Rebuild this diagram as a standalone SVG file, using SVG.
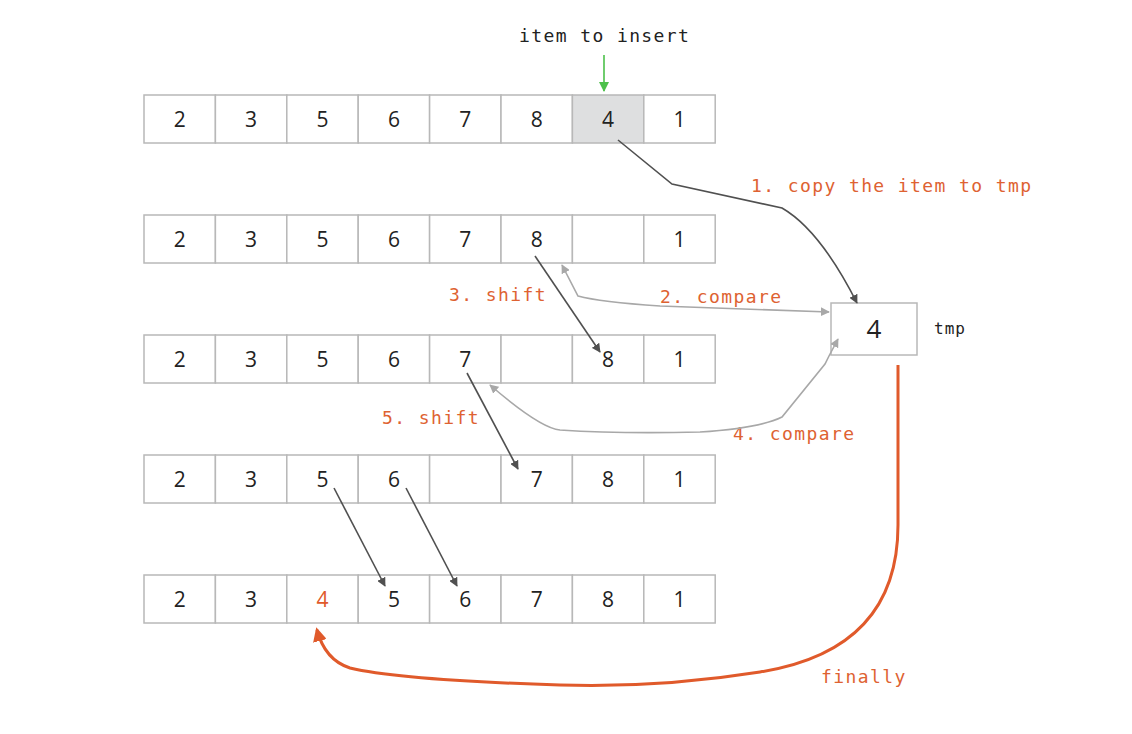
<svg xmlns="http://www.w3.org/2000/svg" width="1132" height="734" viewBox="0 0 1132 734">
<style>
.cell{fill:#fff;stroke:#b8b8b8;stroke-width:1.5}
.hl{fill:#dedfe0}
.num{font-family:"Open Sans","DejaVu Sans",sans-serif;font-size:21px;fill:#222;text-anchor:middle;dominant-baseline:central}
.org{fill:#e05a2b}
.lbl{font-family:"DejaVu Sans Mono","Liberation Mono",monospace;font-size:18px;letter-spacing:1.4px;fill:#de6232}
.blk{font-family:"DejaVu Sans Mono","Liberation Mono",monospace;font-size:18px;letter-spacing:1.4px;fill:#222}
.dk{fill:none;stroke:#505050;stroke-width:1.6}
.lt{fill:none;stroke:#a8a8a8;stroke-width:1.6}
</style>
<defs>
<marker id="ad" viewBox="0 0 10 10" refX="9" refY="5" markerWidth="9" markerHeight="9" markerUnits="userSpaceOnUse" orient="auto-start-reverse"><path d="M0,0 L10,5 L0,10 z" fill="#505050"/></marker>
<marker id="al" viewBox="0 0 10 10" refX="9" refY="5" markerWidth="9" markerHeight="9" markerUnits="userSpaceOnUse" orient="auto-start-reverse"><path d="M0,0 L10,5 L0,10 z" fill="#a8a8a8"/></marker>
<marker id="ag" viewBox="0 0 10 10" refX="9" refY="5" markerWidth="10" markerHeight="10" markerUnits="userSpaceOnUse" orient="auto"><path d="M0,0 L10,5 L0,10 z" fill="#4cc04a"/></marker>
<marker id="ao" viewBox="0 0 10 10" refX="8" refY="5" markerWidth="14" markerHeight="14" markerUnits="userSpaceOnUse" orient="auto"><path d="M0,0 L10,5 L0,10 z" fill="#e05a2b"/></marker>
</defs>
<rect width="1132" height="734" fill="#fff"/>

<g id="row1">
<rect class="cell" x="144" y="95" width="71.4" height="48"/>
<rect class="cell" x="215.4" y="95" width="71.4" height="48"/>
<rect class="cell" x="286.8" y="95" width="71.4" height="48"/>
<rect class="cell" x="358.2" y="95" width="71.4" height="48"/>
<rect class="cell" x="429.6" y="95" width="71.4" height="48"/>
<rect class="cell" x="501" y="95" width="71.4" height="48"/>
<rect class="cell hl" x="572.4" y="95" width="71.4" height="48"/>
<rect class="cell" x="643.8" y="95" width="71.4" height="48"/>
<text class="num" x="179.7" y="119">2</text>
<text class="num" x="251.1" y="119">3</text>
<text class="num" x="322.5" y="119">5</text>
<text class="num" x="393.9" y="119">6</text>
<text class="num" x="465.3" y="119">7</text>
<text class="num" x="536.7" y="119">8</text>
<text class="num" x="608.1" y="119">4</text>
<text class="num" x="679.5" y="119">1</text>
</g>

<g id="row2">
<rect class="cell" x="144" y="215" width="71.4" height="48"/>
<rect class="cell" x="215.4" y="215" width="71.4" height="48"/>
<rect class="cell" x="286.8" y="215" width="71.4" height="48"/>
<rect class="cell" x="358.2" y="215" width="71.4" height="48"/>
<rect class="cell" x="429.6" y="215" width="71.4" height="48"/>
<rect class="cell" x="501" y="215" width="71.4" height="48"/>
<rect class="cell" x="572.4" y="215" width="71.4" height="48"/>
<rect class="cell" x="643.8" y="215" width="71.4" height="48"/>
<text class="num" x="179.7" y="239">2</text>
<text class="num" x="251.1" y="239">3</text>
<text class="num" x="322.5" y="239">5</text>
<text class="num" x="393.9" y="239">6</text>
<text class="num" x="465.3" y="239">7</text>
<text class="num" x="536.7" y="239">8</text>
<text class="num" x="679.5" y="239">1</text>
</g>

<g id="row3">
<rect class="cell" x="144" y="335" width="71.4" height="48"/>
<rect class="cell" x="215.4" y="335" width="71.4" height="48"/>
<rect class="cell" x="286.8" y="335" width="71.4" height="48"/>
<rect class="cell" x="358.2" y="335" width="71.4" height="48"/>
<rect class="cell" x="429.6" y="335" width="71.4" height="48"/>
<rect class="cell" x="501" y="335" width="71.4" height="48"/>
<rect class="cell" x="572.4" y="335" width="71.4" height="48"/>
<rect class="cell" x="643.8" y="335" width="71.4" height="48"/>
<text class="num" x="179.7" y="359">2</text>
<text class="num" x="251.1" y="359">3</text>
<text class="num" x="322.5" y="359">5</text>
<text class="num" x="393.9" y="359">6</text>
<text class="num" x="465.3" y="359">7</text>
<text class="num" x="608.1" y="359">8</text>
<text class="num" x="679.5" y="359">1</text>
</g>

<g id="row4">
<rect class="cell" x="144" y="455" width="71.4" height="48"/>
<rect class="cell" x="215.4" y="455" width="71.4" height="48"/>
<rect class="cell" x="286.8" y="455" width="71.4" height="48"/>
<rect class="cell" x="358.2" y="455" width="71.4" height="48"/>
<rect class="cell" x="429.6" y="455" width="71.4" height="48"/>
<rect class="cell" x="501" y="455" width="71.4" height="48"/>
<rect class="cell" x="572.4" y="455" width="71.4" height="48"/>
<rect class="cell" x="643.8" y="455" width="71.4" height="48"/>
<text class="num" x="179.7" y="479">2</text>
<text class="num" x="251.1" y="479">3</text>
<text class="num" x="322.5" y="479">5</text>
<text class="num" x="393.9" y="479">6</text>
<text class="num" x="536.7" y="479">7</text>
<text class="num" x="608.1" y="479">8</text>
<text class="num" x="679.5" y="479">1</text>
</g>

<g id="row5">
<rect class="cell" x="144" y="575" width="71.4" height="48"/>
<rect class="cell" x="215.4" y="575" width="71.4" height="48"/>
<rect class="cell" x="286.8" y="575" width="71.4" height="48"/>
<rect class="cell" x="358.2" y="575" width="71.4" height="48"/>
<rect class="cell" x="429.6" y="575" width="71.4" height="48"/>
<rect class="cell" x="501" y="575" width="71.4" height="48"/>
<rect class="cell" x="572.4" y="575" width="71.4" height="48"/>
<rect class="cell" x="643.8" y="575" width="71.4" height="48"/>
<text class="num" x="179.7" y="599">2</text>
<text class="num" x="251.1" y="599">3</text>
<text class="num org" x="322.5" y="599">4</text>
<text class="num" x="393.9" y="599">5</text>
<text class="num" x="465.3" y="599">6</text>
<text class="num" x="536.7" y="599">7</text>
<text class="num" x="608.1" y="599">8</text>
<text class="num" x="679.5" y="599">1</text>
</g>

<g id="tmp">
<rect class="cell" x="831" y="303" width="86" height="52"/>
<text class="num" x="874" y="328" style="font-size:26px">4</text>
<text class="blk" x="934" y="334" style="font-size:16px;letter-spacing:1px">tmp</text>
</g>

<g id="labels">
<text class="blk" x="519" y="42">item to insert</text>
<text class="lbl" x="751" y="192">1. copy the item to tmp</text>
<text class="lbl" x="660" y="303">2. compare</text>
<text class="lbl" x="449" y="301">3. shift</text>
<text class="lbl" x="733" y="440">4. compare</text>
<text class="lbl" x="382" y="424">5. shift</text>
<text class="lbl" x="821" y="683">finally</text>
</g>

<g id="connectors">
<path d="M604,55 L604,91" stroke="#4cc04a" stroke-width="1.6" fill="none" marker-end="url(#ag)"/>
<path class="dk" d="M618,140 L672,184 L782,208 Q820,230 857,303" marker-end="url(#ad)"/>
<path class="lt" d="M562,265 L578,296 Q600,302 660,306 L829,312" marker-start="url(#al)" marker-end="url(#al)"/>
<path class="dk" d="M535,256 L600,352" marker-end="url(#ad)"/>
<path class="lt" d="M838,339 L829,356 L825,364 L782,417 Q760,428 700,432 Q620,434 560,430 Q540,428 490,385" marker-start="url(#al)" marker-end="url(#al)"/>
<path class="dk" d="M467,373 L518,469" marker-end="url(#ad)"/>
<path class="dk" d="M334,488 L385,586" marker-end="url(#ad)"/>
<path class="dk" d="M406,488 L457,586" marker-end="url(#ad)"/>
<path d="M898,365 L898,525 Q898,650 760,672 Q660,688 560,685 Q400,680 350,668 Q325,660 317,630" fill="none" stroke="#e05a2b" stroke-width="3" marker-end="url(#ao)"/>
</g>
</svg>
